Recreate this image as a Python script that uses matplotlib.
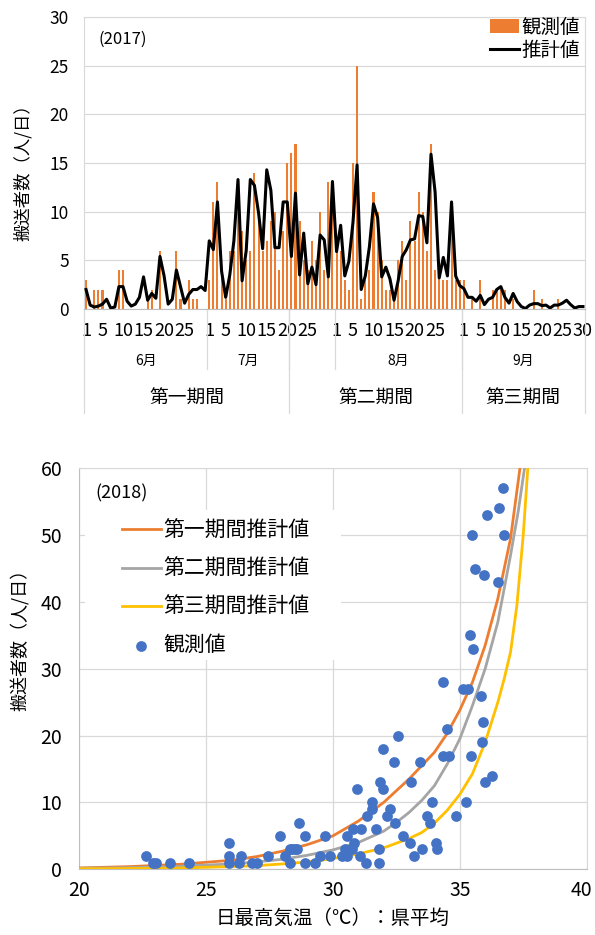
import numpy as np
import matplotlib
matplotlib.use('Agg')
import matplotlib.pyplot as plt
import matplotlib.transforms as mtransforms
from matplotlib.patches import Rectangle

plt.rcParams['font.family'] = ['Noto Sans CJK JP', 'DejaVu Sans']

# ---- 2017: daily transports, observed vs estimated ----
june_obs = [3, 0, 2, 2, 2, 0, 0, 0, 4, 4, 0, 0, 0, 0, 0, 1, 2, 0, 6, 0, 0, 0, 6, 1, 0, 3, 1, 1, 0, 0]
july_obs = [3, 11, 13, 4, 1, 6, 6, 11, 8, 5, 6, 14, 9, 6, 7, 9, 10, 4, 8, 15, 16, 17, 9, 5, 4, 7, 5, 10, 4, 13, 10]
aug_obs = [7, 6, 3, 2, 15, 25, 1, 3, 4, 12, 10, 5, 2, 2, 1, 5, 7, 3, 9, 7, 12, 10, 6, 17, 4, 4, 3, 3, 8, 3, 3]
sep_obs = [3, 0, 1, 0, 3, 0, 0, 2, 2, 2, 2, 0, 1, 0, 0, 0, 0, 2, 0, 1, 0, 0, 0, 1, 0, 0, 0, 0, 0, 0]

june_est = [2.0, 0.4, 0.2, 0.3, 0.5, 1.0, 0.1, 0.2, 2.3, 2.3, 0.8, 0.3, 0.5, 1.2, 3.3,
            0.9, 1.6, 1.1, 5.4, 3.4, 0.5, 1.0, 4.0, 2.3, 0.6, 1.5, 2.0, 2.0, 2.3, 1.9]
july_est = [7.0, 6.1, 11.0, 3.9, 1.2, 3.5, 7.0, 13.3, 2.9, 6.0, 13.3, 12.7, 9.9, 6.2, 14.3, 12.2,
            6.3, 6.3, 11.0, 11.0, 5.4, 11.9, 3.5, 7.8, 2.6, 4.3, 2.5, 7.6, 7.1, 3.3, 13.1]
aug_est = [5.9, 8.6, 3.4, 4.9, 8.9, 14.8, 2.0, 3.4, 6.4, 10.8, 9.4, 3.3, 4.3, 3.1, 0.9, 2.9,
           5.4, 6.1, 7.1, 7.2, 9.6, 9.5, 6.8, 15.9, 12.0, 3.2, 5.3, 3.4, 11.0, 3.4, 2.4]
sep_est = [2.1, 1.2, 1.2, 0.8, 1.4, 0.45, 1.0, 1.2, 2.0, 2.3, 1.2, 0.6, 1.6, 0.75, 0.25,
           0.05, 0.4, 0.55, 0.55, 0.35, 0.4, 0.1, 0.4, 0.4, 0.6, 0.9, 0.45, 0.1, 0.25, 0.25]

month_names = ['6月', '7月', '8月', '9月']
month_days = [30, 31, 31, 30]
day_labels = [[1, 5, 10, 15, 20, 25], [1, 5, 10, 15, 20, 25],
              [1, 5, 10, 15, 20, 25], [1, 5, 10, 15, 20, 25, 30]]
period_names = ['第一期間', '第二期間', '第三期間']
period_days = [50, 42, 30]

# ---- 2018: transports vs daily max temperature ----
temp = [22.65, 22.9, 23.03, 23.58, 24.33, 25.9, 25.9, 25.9, 26.37, 26.3, 26.8, 27.0, 27.43,
        27.9, 28.1, 28.3, 28.3, 28.68, 28.5, 28.9, 28.38, 28.57, 28.9, 29.3, 29.5, 29.7, 29.9,
        30.35, 30.48, 30.54, 30.54, 30.8, 30.84, 30.74, 30.94, 31.1, 31.07, 31.3, 31.36, 31.53,
        31.53, 31.7, 31.83, 31.8, 31.85, 31.98, 31.98, 32.25, 32.14, 32.45, 32.4, 32.55, 32.75,
        33.04, 33.06, 33.19, 33.43, 33.52, 33.69, 33.82, 33.92, 34.06, 34.09, 34.32, 34.58,
        34.35, 34.5, 34.87, 35.23, 35.13, 35.33, 35.4, 35.53, 35.44, 35.5, 35.6, 35.96, 35.82,
        35.93, 35.86, 35.99, 36.28, 36.08, 36.55, 36.71, 36.75, 36.51]
count = [2, 1, 1, 1, 1, 4, 2, 1, 2, 1, 1, 1, 2,
         5, 2, 3, 1, 7, 3, 5, 3, 3, 1, 1, 2, 5, 2,
         2, 3, 5, 2, 6, 4, 3, 12, 6, 2, 1, 8, 10,
         9, 6, 3, 1, 13, 12, 18, 9, 8, 7, 16, 20, 5,
         4, 13, 2, 16, 3, 8, 7, 10, 4, 3, 17, 17,
         28, 21, 8, 10, 27, 27, 35, 33, 17, 50, 45, 44, 26,
         22, 19, 13, 14, 53, 54, 57, 50, 43]

p1_x = [20, 22, 24, 26, 27, 28, 29, 30, 31, 32, 33, 34, 34.5, 35, 35.5, 36, 36.5, 37, 37.37]
p1_y = [0.2, 0.4, 0.75, 1.35, 1.9, 2.7, 3.7, 5.0, 7.2, 10.0, 13.5, 17.5, 20.3, 23.8, 28.0,
        33.5, 40.5, 49.5, 60]
p2_x = [20, 22, 24, 26, 27, 28, 29, 30, 31, 32, 32.5, 33, 33.5, 34, 34.5, 35, 35.5, 36, 36.5, 37,
        37.3, 37.55]
p2_y = [0.15, 0.25, 0.45, 0.8, 1.1, 1.5, 2.1, 2.9, 4.0, 5.7, 7.0, 8.5, 10.3, 12.5, 15.7, 19.5,
        24.5, 30, 37, 47, 53.5, 60]
p3_x = [20, 22, 24, 26, 27, 28, 29, 30, 31, 32, 32.5, 33, 33.5, 34, 34.5, 35, 35.5, 36, 36.5,
        36.75, 37, 37.25, 37.5, 37.68]
p3_y = [0.08, 0.12, 0.2, 0.4, 0.55, 0.8, 1.1, 1.6, 2.3, 3.2, 3.9, 4.6, 5.5, 6.9, 8.8, 11.2,
        14.3, 19.0, 25.0, 28.5, 32.5, 39.5, 50, 60]

ORANGE = '#ED7D31'
GRAY = '#A5A5A5'
YELLOW = '#FFC000'
BLUE = '#4472C4'
GRID = '#D9D9D9'

fig = plt.figure(figsize=(5.95, 9.35), dpi=100)
W, H = 595, 935

# ================= top: 2017 time series =================
obs = june_obs + july_obs + aug_obs + sep_obs
est = june_est + july_est + aug_est + sep_est
days = np.arange(len(obs))

ax1 = fig.add_axes([84 / W, 1 - 309 / H, 501 / W, 292 / H])
bars = ax1.bar(days, obs, width=0.5, color=ORANGE, linewidth=0, antialiased=False,
               label='観測値', zorder=2)
line, = ax1.plot(days, est, color='black', lw=2.2, label='推計値', zorder=3)
ax1.set_xlim(-0.5, len(obs) - 0.5)
ax1.set_ylim(0, 30)
ax1.set_yticks(range(0, 31, 5))
ax1.grid(axis='y', color=GRID, lw=0.9)
ax1.set_axisbelow(True)
for s in ax1.spines.values():
    s.set_color(GRID)
ax1.spines['bottom'].set_color('#BFBFBF')
ax1.tick_params(axis='y', length=0, pad=11, labelsize=12.5)

# day tick labels within each month
starts = np.cumsum([0] + month_days[:-1])
ticks, labels = [], []
for s, dl in zip(starts, day_labels):
    for d in dl:
        ticks.append(s + d - 1)
        labels.append(str(d))
ax1.set_xticks(ticks)
ax1.set_xticklabels(labels)
ax1.tick_params(axis='x', length=0, pad=9, labelsize=13)

trans = mtransforms.blended_transform_factory(ax1.transData, ax1.transAxes)
y_month = -0.205
y_period = -0.356

# month row (a month split by a period boundary is only labelled once)
bounds = sorted(set(list(starts) + list(np.cumsum([0] + period_days[:-1]))))
bounds.append(len(obs))
for a, b in zip(bounds[:-1], bounds[1:]):
    if a in starts:
        name = month_names[list(starts).index(a)]
        ax1.text((a + b - 1) / 2, -0.178, name, transform=trans, ha='center', va='center',
                 fontsize=10)
for a in bounds[1:-1]:
    ax1.plot([a - 0.5, a - 0.5], [0, y_month], transform=trans, color=GRID, lw=0.9,
             clip_on=False)

# period row
p_start = 0
for name, n in zip(period_names, period_days):
    ax1.text(p_start + (n - 1) / 2, -0.305, name, transform=trans, ha='center', va='center',
             fontsize=13.5)
    if p_start > 0:
        ax1.plot([p_start - 0.5, p_start - 0.5], [0, y_period], transform=trans, color=GRID,
                 lw=0.9, clip_on=False)
    p_start += n
for xe in (-0.5, len(obs) - 0.5):
    ax1.plot([xe, xe], [0, y_period], transform=trans, color=GRID, lw=0.9, clip_on=False)

ax1.text(0.028, 0.925, '(2017)', transform=ax1.transAxes, fontsize=12, va='center')
ax1.legend([bars, line], ['観測値', '推計値'], loc='upper right', bbox_to_anchor=(0.99, 1.0),
           frameon=False, fontsize=14, handlelength=1.45, handletextpad=0.15,
           labelspacing=0.08, borderaxespad=0, borderpad=0)
fig.text(23 / W, 1 - 168 / H, '搬送者数（人/日）', rotation=90, ha='center', va='center',
         fontsize=12.5)

# ================= bottom: 2018 temperature response =================
ax2 = fig.add_axes([79 / W, 1 - 869.3 / H, 507.7 / W, 401 / H])
ax2.plot(p1_x, p1_y, color=ORANGE, lw=2, label='第一期間推計値', zorder=3)
ax2.plot(p2_x, p2_y, color=GRAY, lw=2, label='第二期間推計値', zorder=3)
ax2.plot(p3_x, p3_y, color=YELLOW, lw=2, label='第三期間推計値', zorder=3)
ax2.scatter(temp, count, s=60, color=BLUE, linewidths=0, label='観測値', zorder=4)
ax2.set_xlim(20, 40)
ax2.set_ylim(0, 60)
ax2.set_xticks(range(20, 41, 5))
ax2.set_yticks(range(0, 61, 10))
ax2.grid(True, color=GRID, lw=0.9)
ax2.set_axisbelow(True)
for s in ax2.spines.values():
    s.set_color(GRID)
ax2.spines['left'].set_color('#BFBFBF')
ax2.spines['bottom'].set_color('#BFBFBF')
ax2.tick_params(axis='y', length=0, pad=12, labelsize=14)
ax2.tick_params(axis='x', length=0, pad=8, labelsize=14)
# keep the last x label inside the figure edge
last = ax2.get_xticklabels()[-1]
last.set_transform(last.get_transform() + mtransforms.ScaledTranslation(-0.05, 0, fig.dpi_scale_trans))

# legend area blanks out the grid behind it
ax2.add_patch(Rectangle((0.012, 0.522), 0.504, 0.374, transform=ax2.transAxes,
                        facecolor='white', edgecolor='none', zorder=1.5))
ax2.legend(loc='upper left', bbox_to_anchor=(0.0847, 0.872), frameon=False, fontsize=15,
           handlelength=1.85, handletextpad=0.15, labelspacing=0.78, borderaxespad=0,
           borderpad=0, scatterpoints=1)
ax2.text(0.0315, 0.938, '(2018)', transform=ax2.transAxes, fontsize=13, va='center')

fig.text(19 / W, 1 - 635 / H, '搬送者数（人/日）', rotation=90, ha='center', va='center',
         fontsize=13)
fig.text(333 / W, 1 - 918 / H, '日最高気温（℃）：県平均', ha='center', va='center', fontsize=14)

fig.savefig('out.png', dpi=100, facecolor='white')
